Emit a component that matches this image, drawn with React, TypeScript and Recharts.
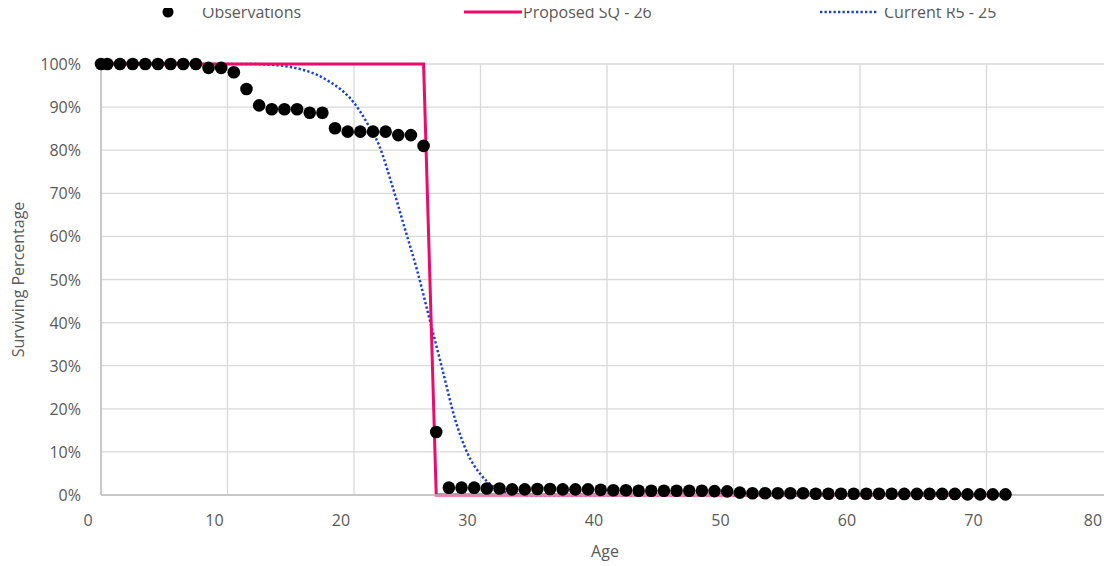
import { ComposedChart, Line, Scatter, XAxis, YAxis, CartesianGrid } from "recharts";

// observed surviving percentage by age (half-year convention)
const obsAges = [
  0, 0.5, 1.5, 2.5, 3.5, 4.5, 5.5, 6.5, 7.5, 8.5, 9.5, 10.5, 11.5, 12.5, 13.5, 14.5, 15.5, 16.5,
  17.5, 18.5, 19.5, 20.5, 21.5, 22.5, 23.5, 24.5, 25.5, 26.5, 27.5, 28.5, 29.5, 30.5, 31.5, 32.5,
  33.5, 34.5, 35.5, 36.5, 37.5, 38.5, 39.5, 40.5, 41.5, 42.5, 43.5, 44.5, 45.5, 46.5, 47.5, 48.5,
  49.5, 50.5, 51.5, 52.5, 53.5, 54.5, 55.5, 56.5, 57.5, 58.5, 59.5, 60.5, 61.5, 62.5, 63.5, 64.5,
  65.5, 66.5, 67.5, 68.5, 69.5, 70.5, 71.5,
];
const obsPct = [
  100, 100, 100, 100, 100, 100, 100, 100, 100, 99.1, 99.1, 98.1, 94.2, 90.4, 89.5, 89.5, 89.5, 88.7,
  88.7, 85.1, 84.3, 84.3, 84.3, 84.3, 83.5, 83.5, 81.0, 14.6, 1.7, 1.7, 1.7, 1.5, 1.5, 1.3,
  1.3, 1.4, 1.4, 1.3, 1.3, 1.3, 1.2, 1.1, 1.1, 1.0, 1.0, 1.0, 1.0, 1.0, 1.0, 0.9,
  0.85, 0.55, 0.4, 0.4, 0.4, 0.4, 0.4, 0.3, 0.3, 0.3, 0.3, 0.3, 0.3, 0.3, 0.25, 0.25,
  0.25, 0.25, 0.25, 0.15, 0.15, 0.15, 0.15,
];

// proposed square curve, life 26
const sqAges = [0, 25.5, 26.5, 71.5];
const sqPct = [100, 100, 0, 0];

// current Iowa R5 curve, life 25
const r5Ages = [
  0, 1, 2, 3, 4, 5, 6, 7, 8, 9, 10, 11, 12, 13, 14, 15, 16, 17, 18, 19, 20, 21, 22, 23, 24, 25, 26,
  27, 28, 29, 30, 31, 32, 33, 34, 40, 50, 60, 71.5,
];
const r5Pct = [
  100, 100, 100, 100, 100, 100, 100, 100, 100, 100, 100, 100, 100, 99.9, 99.7, 99.3, 98.6, 97.6,
  96, 94, 91, 86.5, 81, 72, 62, 52, 40.5, 29, 17.5, 9.5, 4.8, 2, 0.6, 0.1, 0, 0, 0, 0, 0,
];

const xTicks = [0, 10, 20, 30, 40, 50, 60, 70, 80];
const yTicks = [0, 10, 20, 30, 40, 50, 60, 70, 80, 90, 100];

const observations = obsAges.map((age, i) => ({ age, pct: obsPct[i] }));
const proposed = sqAges.map((age, i) => ({ age, pct: sqPct[i] }));
const current = r5Ages.map((age, i) => ({ age, pct: r5Pct[i] }));

const FONT = "'Open Sans', sans-serif";
const TEXT = "#595959";
const RED = "#ef0a6a";
const BLUE = "#1a3fd8";

const XTick = (props: any) => (
  <text x={props.x - 13} y={props.y + 23} textAnchor="middle" fill={TEXT} fontSize={16} fontFamily={FONT}>
    {props.payload.value}
  </text>
);

const YTick = (props: any) => (
  <text x={props.x - 12} y={props.y + 6} textAnchor="end" fill={TEXT} fontSize={16} fontFamily={FONT}>
    {props.payload.value}%
  </text>
);

const Dot = (props: any) => <circle cx={props.cx} cy={props.cy} r={6.3} fill="#000" />;

function LegendBar() {
  const item = {
    position: "absolute" as const,
    top: 1,
    height: 22,
    lineHeight: "22px",
    display: "flex",
    alignItems: "center",
    whiteSpace: "nowrap" as const,
  };
  return (
    <div
      style={{
        position: "absolute",
        left: 0,
        top: 0,
        width: 1112,
        height: 26,
        zIndex: 2,
        fontFamily: FONT,
        fontSize: 16,
        color: TEXT,
      }}
    >
      <div style={{ ...item, left: 160 }}>
        <svg width={16} height={16}>
          <circle cx={8} cy={8} r={5.5} fill="#000" />
        </svg>
        <span style={{ marginLeft: 26 }}>Observations</span>
      </div>
      <div style={{ ...item, left: 464 }}>
        <svg width={58} height={10}>
          <line x1={0} y1={5} x2={58} y2={5} stroke={RED} strokeWidth={3} />
        </svg>
        <span style={{ marginLeft: 1 }}>Proposed SQ - 26</span>
      </div>
      <div style={{ ...item, left: 820 }}>
        <svg width={58} height={10}>
          <line x1={0} y1={5} x2={58} y2={5} stroke={BLUE} strokeWidth={2.5} strokeDasharray="2.3 2.2" />
        </svg>
        <span style={{ marginLeft: 6 }}>Current R5 - 25</span>
      </div>
    </div>
  );
}

export default function App() {
  return (
    <div
      style={{
        margin: "-8px 0 0 -8px",
        width: 1112,
        height: 566,
        overflow: "hidden",
        position: "relative",
        background: "#fff",
      }}
    >
      <ComposedChart width={1114} height={566} margin={{ top: 64, right: 1, bottom: 0, left: 0 }}>
        <CartesianGrid stroke="#d9d9d9" strokeWidth={1.3} />
        <XAxis
          type="number"
          dataKey="age"
          domain={[0, 80]}
          ticks={xTicks}
          height={71}
          tick={<XTick />}
          tickLine={false}
          axisLine={{ stroke: "#bfbfbf", strokeWidth: 1.5 }}
          label={{
            content: (p: any) => (
              <text
                x={p.viewBox.x + p.viewBox.width / 2 - 2}
                y={p.viewBox.y + 62}
                textAnchor="middle"
                fill={TEXT}
                fontSize={16}
                fontFamily={FONT}
              >
                Age
              </text>
            ),
          }}
        />
        <YAxis
          type="number"
          dataKey="pct"
          domain={[0, 100]}
          ticks={yTicks}
          width={101}
          tick={<YTick />}
          tickLine={false}
          axisLine={{ stroke: "#bfbfbf", strokeWidth: 1.5 }}
          label={{
            content: (p: any) => (
              <text
                transform={`translate(${p.viewBox.x + 24}, ${p.viewBox.y + p.viewBox.height / 2}) rotate(-90)`}
                textAnchor="middle"
                fill={TEXT}
                fontSize={16}
                fontFamily={FONT}
              >
                Surviving Percentage
              </text>
            ),
          }}
        />
        <Line
          data={current}
          dataKey="pct"
          type="monotone"
          stroke={BLUE}
          strokeWidth={2.5}
          strokeDasharray="2.3 2.2"
          dot={false}
          activeDot={false}
          isAnimationActive={false}
        />
        <Line
          data={proposed}
          dataKey="pct"
          type="linear"
          stroke={RED}
          strokeWidth={3}
          dot={false}
          activeDot={false}
          isAnimationActive={false}
        />
        <Scatter data={observations} dataKey="pct" shape={<Dot />} isAnimationActive={false} />
      </ComposedChart>
      <LegendBar />
    </div>
  );
}
